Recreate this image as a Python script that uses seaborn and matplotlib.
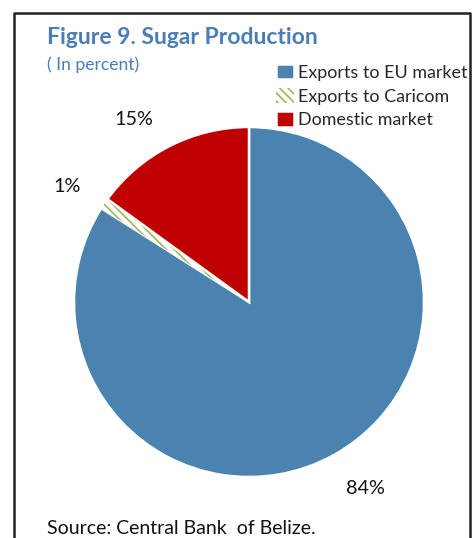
import numpy as np
import matplotlib
matplotlib.use("Agg")
import matplotlib.pyplot as plt
import seaborn as sns

# Sugar production shares (percent)
categories = ["Exports to EU market", "Exports to Caricom", "Domestic market"]
shares = [84, 1, 15]
colors = ["#4A82B0", "#FFFFFF", "#C00000"]
explode = [0.0, 0.015, 0.035]

# where the percent labels sit: angle clockwise from 12 o'clock, distance in radii
label_angle = [148.0, 302.4, 327.7]
label_dist = [1.26, 1.232, 1.237]

title = "Figure 9. Sugar Production"
subtitle = "( In percent)"
source = "Source: Central Bank  of Belize."

sns.set_theme(style="white")
plt.rcParams["font.family"] = ["Lato", "DejaVu Sans"]
plt.rcParams["hatch.linewidth"] = 1.2

W, H = 473, 538
cx, cy, r = 249, H - 302, 175
fig = plt.figure(figsize=(W / 100, H / 100), dpi=100)
ax = fig.add_axes([0, 0, 1, 1])

wedges, texts, autotexts = ax.pie(
    shares,
    colors=colors,
    explode=explode,
    startangle=90,
    counterclock=False,
    center=(cx, cy),
    radius=r,
    autopct="%1.0f%%",
    frame=True,
    wedgeprops=dict(edgecolor="white", linewidth=1.8),
    textprops=dict(fontsize=14.2, color="#111111"),
)
# Caricom slice: green diagonal hatch on white
wedges[1].set_edgecolor("#9BBB59")
wedges[1].set_hatch("\\\\\\\\")
wedges[1].set_linewidth(0)

for t, a, d in zip(autotexts, label_angle, label_dist):
    th = np.deg2rad(a)
    t.set_position((cx + d * r * np.sin(th), cy + d * r * np.cos(th)))
    t.set_ha("center")
    t.set_va("center")

ax.set_xlim(0, W)
ax.set_ylim(0, H)
ax.set_aspect("auto")
ax.axis("off")

leg = ax.legend(
    wedges, categories,
    loc="upper left", bbox_to_anchor=(276 / W, 1 - 64 / H),
    frameon=False, fontsize=12.9,
    handlelength=1.0, handleheight=0.95, handletextpad=0.25,
    labelspacing=0.38, borderpad=0, borderaxespad=0,
)

blue = "#4A7FB5"
fig.text(47 / W, 1 - 38 / H, title, fontsize=16.5, fontweight="bold",
         color=blue, va="center", ha="left")
fig.text(47 / W, 1 - 65 / H, subtitle, fontsize=12.6, color=blue,
         va="center", ha="left")
fig.text(47 / W, 1 - 528 / H, source, fontsize=14, color="#111111",
         va="center", ha="left")

# box frame
fig.add_artist(plt.Line2D([14 / W, 14 / W, 470 / W, 470 / W],
                          [0, 1 - 13 / H, 1 - 13 / H, 0],
                          color="#222222", linewidth=1.8))

fig.savefig("out.png", dpi=100)
